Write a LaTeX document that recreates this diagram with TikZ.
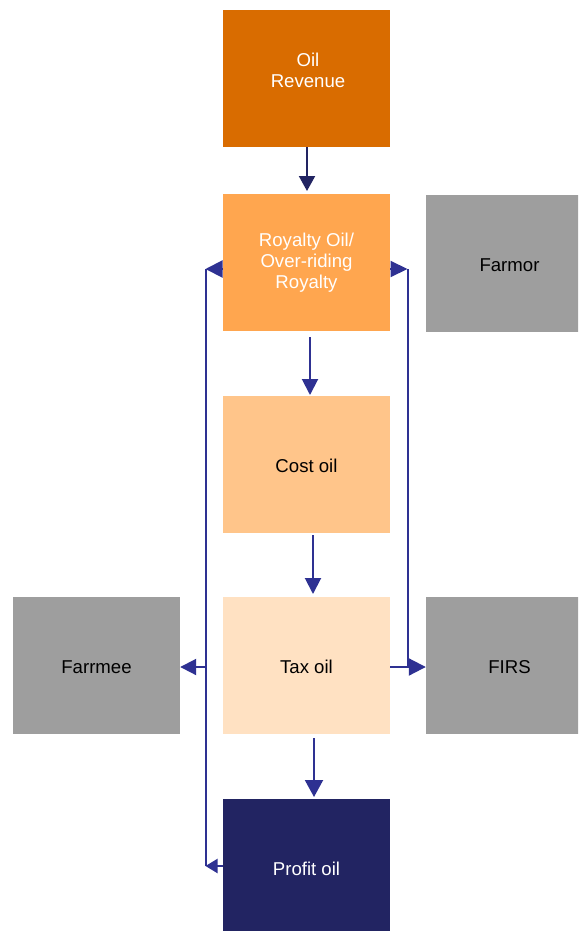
\documentclass[tikz,border=0pt]{standalone}
\usepackage{fontspec}
\setmainfont{Liberation Sans}
\usetikzlibrary{arrows.meta}
\definecolor{cOil}{HTML}{D96C00}
\definecolor{cRoy}{HTML}{FFA64F}
\definecolor{cCost}{HTML}{FFC58A}
\definecolor{cTax}{HTML}{FFE1C2}
\definecolor{cGray}{HTML}{9E9E9E}
\definecolor{cProfit}{HTML}{222462}
\definecolor{cArrow}{HTML}{2E3192}
\tikzset{
  box/.style={rectangle, inner sep=0pt, minimum width=167pt, minimum height=137pt},
  txt/.style={align=center, inner sep=0pt, font=\fontsize{18.6}{21}\selectfont},
  conn/.style={draw=cArrow, line width=2pt},
  arr/.style={conn, -{Triangle[length=16pt,width=16pt]}},
  arrsmall/.style={conn, -{Triangle[length=12pt,width=14pt]}},
}
\begin{document}
\begin{tikzpicture}[x=1pt,y=-1pt]
\useasboundingbox (0,0) rectangle (578,931);
\clip (0,0) rectangle (578,931);
\fill[white] (0,0) rectangle (578,931);
% boxes
\node[box, fill=cOil] (oil) at (306.5,78.5) {};
\node[box, fill=cRoy] (roy) at (306.5,262) {};
\node[box, fill=cGray] (farmor) at (509.5,263.5) {};
\node[box, fill=cCost] (cost) at (306.5,464.5) {};
\node[box, fill=cTax] (tax) at (306.5,665.5) {};
\node[box, fill=cGray] (farrmee) at (96.5,665.5) {};
\node[box, fill=cGray] (firs) at (509.5,665.5) {};
\node[box, fill=cProfit] (profit) at (306.5,867.5) {};
% texts
\node[txt, text=white] (oilt) at ([xshift=1.5pt,yshift=8pt]oil.center) {Oil\\Revenue};
\node[txt, text=white] (royt) at ([yshift=-1pt]roy.center) {Royalty Oil/\\Over-riding\\Royalty};
\node[txt] (farmort) at ([yshift=-1.5pt]farmor.center) {Farmor};
\node[txt] (costt) at ([yshift=-1.5pt]cost.center) {Cost oil};
\node[txt] (taxt) at ([yshift=-1.5pt]tax.center) {Tax oil};
\node[txt] (farrmeet) at ([yshift=-1.5pt]farrmee.center) {Farrmee};
\node[txt] (first) at ([yshift=-1.5pt]firs.center) {FIRS};
\node[txt, text=white] (profitt) at ([yshift=-1.5pt]profit.center) {Profit oil};
% helper coordinates
\coordinate (lt) at (205.5,269);
\coordinate (lf) at (205.5,667);
\coordinate (lb) at (205.5,866);
\coordinate (rt) at (407.5,269);
\coordinate (rf) at (407.5,667);
% vertical chain
\draw[conn, draw=cProfit, -{Triangle[length=15pt,width=16pt]}] (oil.south -| 307,0) -- (307,191);
\coordinate (a2s) at (310,337); \coordinate (a2e) at (310,395);
\draw[arr] (a2s) -- (a2e);
\coordinate (a3s) at (313,535); \coordinate (a3e) at (313,594);
\draw[arr] (a3s) -- (a3e);
\coordinate (a4s) at (314,738); \coordinate (a4e) at (314,797);
\draw[conn, -{Triangle[length=17pt,width=18pt]}] (a4s) -- (a4e);
% left loop
\draw[conn, -{Triangle[length=17pt,width=17pt]}] (roy.west |- lt) -- (lt);
\draw[conn] (lt) -- (lb);
\draw[arrsmall] (profit.west |- lb) -- (lb);
\draw[arr] (lf) -- (farrmee.east |- lf);
% right loop
\draw[conn, -{Triangle[length=17pt,width=16pt]}] (roy.east |- rt) -- (rt);
\draw[conn] (rt) -- (rf);
\draw[conn, -{Triangle[length=17pt,width=17pt]}] (tax.east |- rf) -- (firs.west |- rf);
\end{tikzpicture}
\end{document}
